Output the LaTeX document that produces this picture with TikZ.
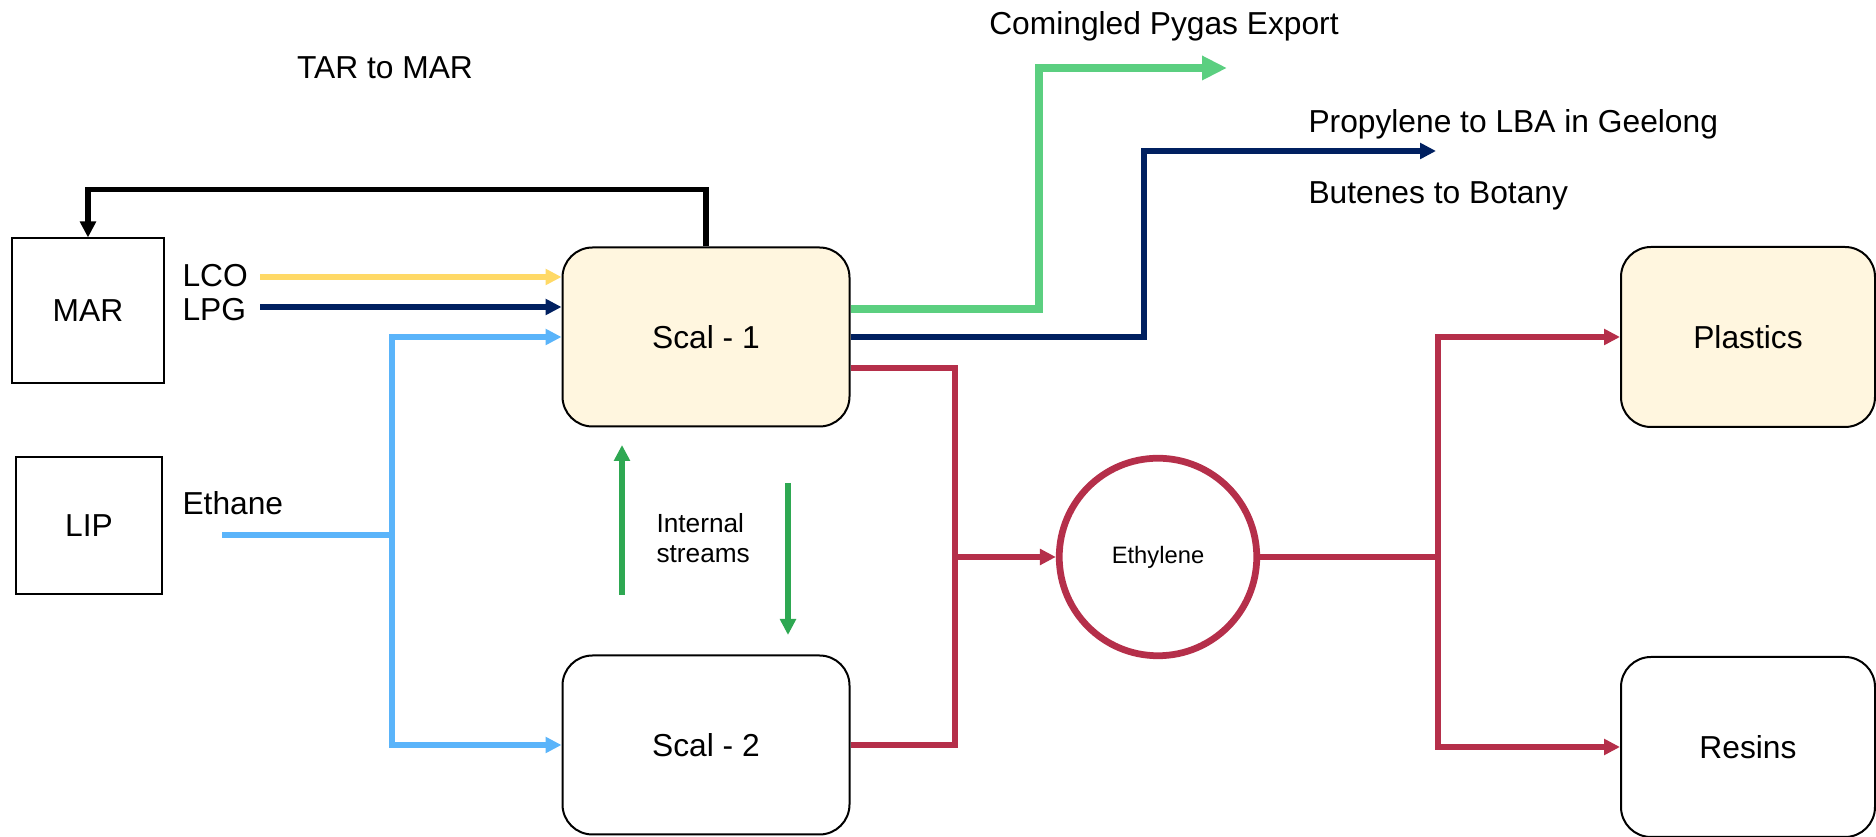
\documentclass[tikz,border=0pt]{standalone}
\usepackage{fontspec}
\setmainfont{Liberation Sans}
\usetikzlibrary{arrows.meta}

\definecolor{lcoyellow}{HTML}{FFD966}
\definecolor{navy}{HTML}{002060}
\definecolor{sky}{HTML}{5AB4FA}
\definecolor{pygasgreen}{HTML}{5BCF80}
\definecolor{intgreen}{HTML}{2EA852}
\definecolor{ethred}{HTML}{B52F4A}
\definecolor{scalfill}{HTML}{FFF6DF}

\begin{document}
\begin{tikzpicture}[x=.4pt,y=-.4pt,font=\fontsize{12.7}{15}\selectfont,
	plant/.style={draw,line width=.8pt,inner sep=0pt},
	cracker/.style={draw,line width=.8pt,rounded corners=12pt,minimum width=114.8pt,minimum height=71.6pt},
	product/.style={draw,line width=.8pt,rounded corners=12pt,minimum width=101.6pt,minimum height=72pt},
	pool/.style={circle,draw=ethred,line width=2.7pt,minimum size=79pt,font=\fontsize{9.5}{11}\selectfont},
	caption/.style={inner sep=0pt},
	arrowed/.style={-{Triangle[length=6.4pt,width=6.2pt]}}]

	\useasboundingbox (0,0) rectangle (1876,837);

	% units
	\node[plant,minimum width=60.8pt,minimum height=58pt] (mar) at (88,311){MAR};
	\node[plant,minimum width=58.4pt,minimum height=54.8pt] (lip) at (89,526){LIP};
	\node[cracker,fill=scalfill] (scal1) at (706,337){Scal - 1};
	\node[cracker] (scal2) at (706,745){Scal - 2};
	\node[product,fill=scalfill] (plastics) at (1748,337){Plastics};
	\node[product] (resins) at (1748,747){Resins};
	\node[pool] (eth) at (1158,557){Ethylene};

	% texts
	\node[caption,anchor=base] (tar) at (385,79){TAR to MAR};
	\node[caption,anchor=base] (pygas) at (1164,35){Comingled Pygas Export};
	\node[caption,anchor=base west] (prop) at (1308,133){Propylene to LBA in Geelong};
	\node[caption,anchor=base west] (but) at (1308,204){Butenes to Botany};
	\node[caption,anchor=base west] (lco) at (182,287){LCO};
	\node[caption,anchor=base west] (lpg) at (182,321){LPG};
	\node[caption,anchor=base west] (ethane) at (182,515){Ethane};
	\node[caption,anchor=west,align=left,font=\fontsize{10.5}{12}\selectfont] (internal) at (656,538){Internal\\streams};

	\coordinate (lcoin) at (260,277);
	\coordinate (lpgin) at (260,307);
	\coordinate (ethin) at (222,535);
	\coordinate (join0) at (392,535);
	\coordinate (join1) at (955,557);
	\coordinate (join2) at (1438,557);
	\coordinate (pygasend) at (1227,68);
	\coordinate (propend) at (1436,151);
	\coordinate (upfoot) at (622,595);
	\coordinate (downtop) at (788,483);

	% feeds
	\draw[arrowed,black,line width=2.2pt] (scal1.north) -- ++(0,-57) -| (mar.north);
	\draw[arrowed,lcoyellow,line width=2.1pt] (lcoin) -- (scal1.west |- lcoin);
	\draw[arrowed,navy,line width=2.1pt] (lpgin) -- (scal1.west |- lpgin);
	\draw[sky,line width=2.1pt] (ethin) -- (join0);
	\draw[arrowed,sky,line width=2.1pt] (join0) |- (scal1.west);
	\draw[arrowed,sky,line width=2.1pt] (join0) |- (scal2.west);

	% internal streams
	\draw[arrowed,intgreen,line width=2.2pt] (upfoot) -- ++(0,-150);
	\draw[arrowed,intgreen,line width=2.2pt] (downtop) -- ++(0,152);

	% exports
	\draw[-{Triangle[length=10pt,width=9.2pt]},pygasgreen,line width=2.9pt] (scal1.east |- 0,309) -| (1039,68) -- (pygasend);
	\draw[arrowed,navy,line width=2.3pt] (scal1.east) -| (1144,151) -- (propend);

	% ethylene
	\draw[ethred,line width=2.1pt] (scal1.east |- 0,368) -| (join1) |- (scal2.east);
	\draw[arrowed,ethred,line width=2.1pt] (join1) -- (eth.west);
	\draw[ethred,line width=2.1pt] (eth.east) -- (join2);
	\draw[arrowed,ethred,line width=2.1pt] (join2) |- (plastics.west);
	\draw[arrowed,ethred,line width=2.1pt] (join2) |- (resins.west);
\end{tikzpicture}
\end{document}
